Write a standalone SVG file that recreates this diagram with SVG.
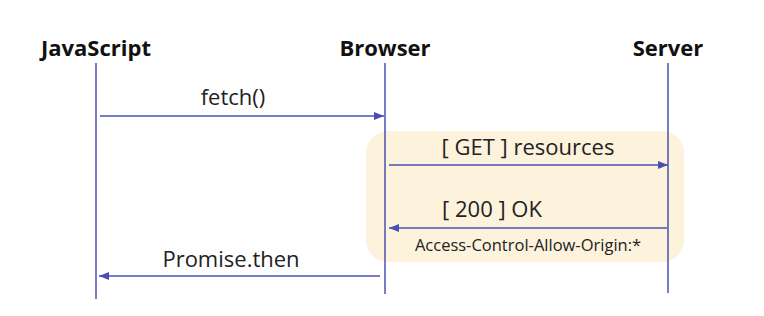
<svg xmlns="http://www.w3.org/2000/svg" width="764" height="316" viewBox="0 0 764 316">
<style>
.title{font-family:"Open Sans","Noto Sans",sans-serif;font-weight:bold;font-size:22px;fill:#111;text-anchor:middle}
.lbl{font-family:"Open Sans","Noto Sans",sans-serif;font-size:22px;fill:#222;text-anchor:middle}
.small{font-family:"Open Sans","Noto Sans",sans-serif;font-size:16.5px;fill:#222;text-anchor:middle}
.life{stroke:#4b4fb3;stroke-width:1.5;fill:none}
.msg{stroke:#4b4fb3;stroke-width:1.5;fill:none;marker-end:url(#ah)}
</style>
<defs>
<marker id="ah" viewBox="0 0 10 10" refX="10" refY="5" markerWidth="10" markerHeight="10" markerUnits="userSpaceOnUse" orient="auto">
<path d="M0,1 L10,5 L0,9 z" fill="#4b4fb3"/>
</marker>
</defs>
<rect x="366" y="131" width="318" height="131" rx="22" fill="#fdf3dc"/>
<g id="javascript"><text class="title" x="96" y="56">JavaScript</text><line class="life" x1="96" y1="63" x2="96" y2="299"/></g>
<g id="browser"><text class="title" x="385" y="56">Browser</text><line class="life" x1="385" y1="63" x2="385" y2="294"/></g>
<g id="server"><text class="title" x="668" y="56">Server</text><line class="life" x1="668" y1="63" x2="668" y2="293"/></g>
<g id="connectors">
<line class="msg" x1="100" y1="116" x2="384" y2="116"/>
<text class="lbl" x="233" y="105">fetch()</text>
<line class="msg" x1="389" y1="165" x2="668" y2="165"/>
<text class="lbl" x="528" y="155">[ GET ] resources</text>
<line class="msg" x1="667" y1="228" x2="389" y2="228"/>
<text class="lbl" x="492" y="217">[ 200 ] OK</text>
<text class="small" x="528" y="251">Access-Control-Allow-Origin:*</text>
<line class="msg" x1="380" y1="276" x2="99" y2="276"/>
<text class="lbl" x="231" y="267">Promise.then</text>
</g>
</svg>
